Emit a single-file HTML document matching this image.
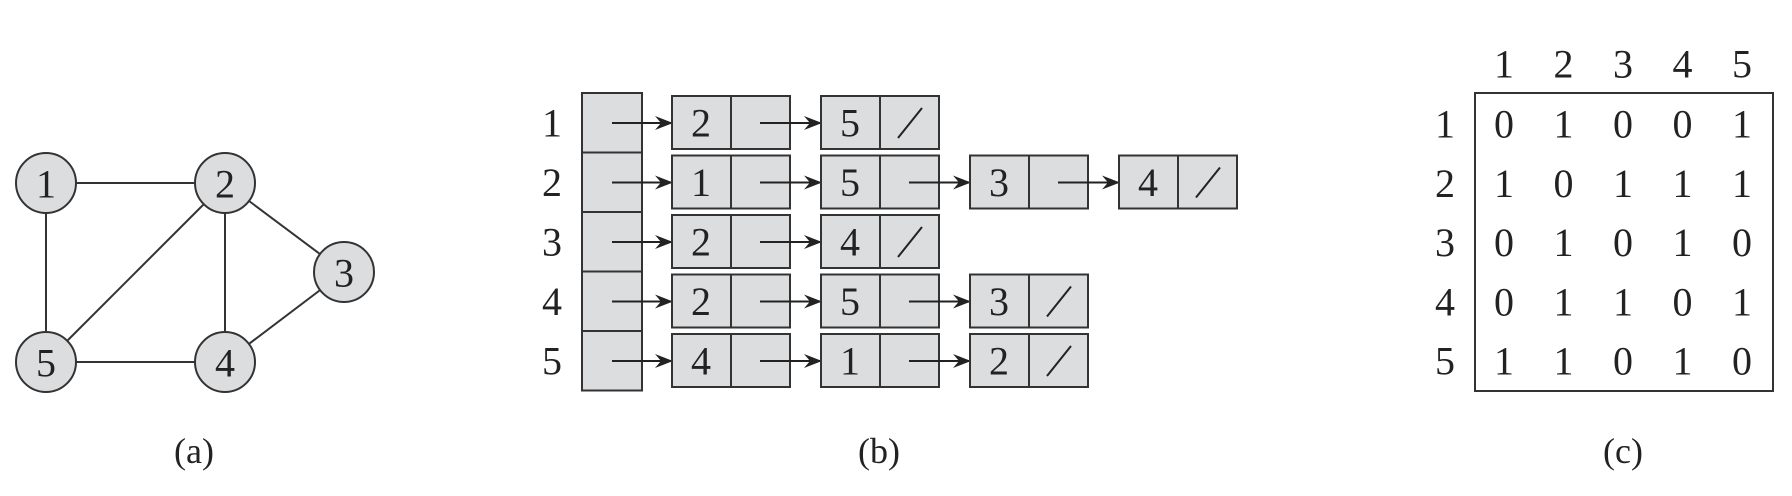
<!DOCTYPE html>
<html><head><meta charset="utf-8"><style>
html,body{margin:0;padding:0;background:#fff;}
svg{display:block;}
text{font-family:"Liberation Serif",serif;fill:#222;}
</style></head><body>
<svg id="fig" width="1792" height="496" viewBox="0 0 1792 496" xmlns="http://www.w3.org/2000/svg">
<defs><marker id="ah" markerWidth="18" markerHeight="14" refX="17" refY="7" orient="auto" markerUnits="userSpaceOnUse"><path d="M0,0 L18,7 L0,14 L6,7 Z" fill="#222"/></marker></defs>
</svg>
<script>
const vertices=[1,2,3,4,5];
const vx=[46,225,344,225,46];
const vy=[183,183,272,362,362];
const edges=[[1,2],[1,5],[2,5],[2,4],[2,3],[3,4],[4,5]];
const adj=[[2,5],[1,5,3,4],[2,4],[2,5,3],[4,1,2]];
const matrix=[[0,1,0,0,1],[1,0,1,1,1],[0,1,0,1,0],[0,1,1,0,1],[1,1,0,1,0]];
const NS="http://www.w3.org/2000/svg";
const svg=document.getElementById('fig');
function mk(t,a,p){const e=document.createElementNS(NS,t);for(const k in a)e.setAttribute(k,a[k]);(p||svg).appendChild(e);return e;}
function txt(s,x,y,size,p){const e=mk('text',{x:x,y:y,'font-size':size,'text-anchor':'middle','dominant-baseline':'central'},p);e.textContent=s;return e;}
// (a) graph
const ga=mk('g',{});


edges.forEach(([a,b])=>{const l=mk('line',{x1:vx[a-1],y1:vy[a-1],x2:vx[b-1],y2:vy[b-1],stroke:'#333','stroke-width':2},ga);

});
vertices.forEach((v,i)=>{const c=mk('circle',{cx:vx[i],cy:vy[i],r:30,fill:'#dcdddf',stroke:'#333','stroke-width':2},ga);


txt(String(v),vx[i],vy[i]+1,40,ga);});
const la=txt('(a)',194,451,36);


// (b) adjacency list
const rowY=r=>93+r*59.5;
const gb=mk('g',{});


adj.forEach((list,r)=>{
 const y0=rowY(r), cy=y0+30;
 txt(String(vertices[r]),552,cy,40,gb);
 const h=mk('rect',{x:582,y:y0,width:60,height:59.5,fill:'#dcdddf',stroke:'#333','stroke-width':2},gb);
 
 
 let ax=612;
 list.forEach((v,k)=>{
  const nx=672+k*149;
  mk('line',{x1:ax,y1:cy,x2:nx,y2:cy,stroke:'#222','stroke-width':2,'marker-end':'url(#ah)'},gb);
  const n=mk('rect',{x:nx,y:y0+3,width:118,height:53,fill:'#dcdddf',stroke:'#333','stroke-width':2},gb);
  
  
  mk('line',{x1:nx+59,y1:y0+3,x2:nx+59,y2:y0+56,stroke:'#333','stroke-width':2},gb);
  txt(String(v),nx+29,cy,40,gb);
  if(k===list.length-1){mk('line',{x1:nx+77,y1:cy+15,x2:nx+101,y2:cy-15,stroke:'#222','stroke-width':2},gb);}
  ax=nx+88;
 });
});
const lb=txt('(b)',879,451,36);


// (c) matrix
const colX=c=>1504+c*59.5;
const mY=r=>124+r*59.3;
const gc=mk('g',{});


const box=mk('rect',{x:1475,y:93,width:298,height:298,fill:'none',stroke:'#333','stroke-width':2},gc);


vertices.forEach((v,i)=>{txt(String(v),colX(i),64,40,gc);txt(String(v),1445,mY(i),40,gc);});
matrix.forEach((row,r)=>row.forEach((val,c)=>{const t=txt(String(val),colX(c),mY(r),40,gc);

}));
const lc=txt('(c)',1623,451,36);


</script>
</body></html>
